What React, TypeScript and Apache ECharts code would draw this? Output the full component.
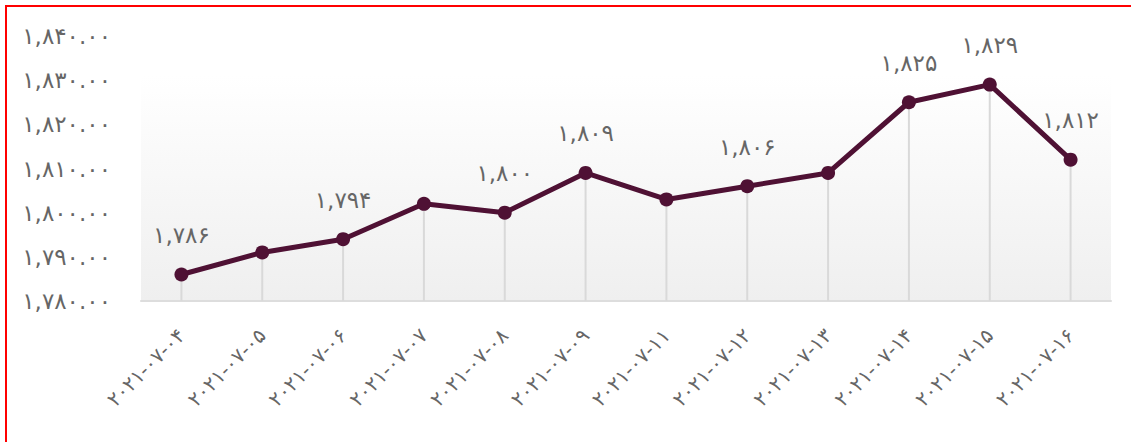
import React, { useEffect, useRef } from "react";
import * as echarts from "echarts";

const categories = [
  "۲۰۲۱-۰۷-۰۴",
  "۲۰۲۱-۰۷-۰۵",
  "۲۰۲۱-۰۷-۰۶",
  "۲۰۲۱-۰۷-۰۷",
  "۲۰۲۱-۰۷-۰۸",
  "۲۰۲۱-۰۷-۰۹",
  "۲۰۲۱-۰۷-۱۱",
  "۲۰۲۱-۰۷-۱۲",
  "۲۰۲۱-۰۷-۱۳",
  "۲۰۲۱-۰۷-۱۴",
  "۲۰۲۱-۰۷-۱۵",
  "۲۰۲۱-۰۷-۱۶",
];
const values = [1786, 1791, 1794, 1802, 1800, 1809, 1803, 1806, 1809, 1825, 1829, 1812];
const labelShown = [true, false, true, false, true, true, false, true, false, true, true, true];
const yMin = 1780;
const yMax = 1840;
const yStep = 10;

const faDigits = "۰۱۲۳۴۵۶۷۸۹";
const toFa = (s: string) => s.replace(/[0-9]/g, (d) => faDigits[Number(d)]);
const fmt = (v: number, dec: number) =>
  toFa(
    v.toLocaleString("en-US", { minimumFractionDigits: dec, maximumFractionDigits: dec })
  );

const FONT = "'DejaVu Sans', sans-serif";
const LINE_COLOR = "#4f1134";
const TEXT_COLOR = "#666666";

export default function App() {
  const ref = useRef<HTMLDivElement>(null);
  useEffect(() => {
    if (!ref.current) return;
    const chart = echarts.init(ref.current, undefined, { renderer: "svg" });
    chart.setOption({
      animation: false,
      grid: {
        left: 141,
        right: 20,
        top: 36,
        bottom: 141,
        show: true,
        borderWidth: 0,
        backgroundColor: new echarts.graphic.LinearGradient(0, 0, 0, 1, [
          { offset: 0, color: "#ffffff" },
          { offset: 0.15, color: "#ffffff" },
          { offset: 1, color: "#efefef" },
        ]),
      },
      xAxis: {
        type: "category",
        data: categories,
        boundaryGap: true,
        axisLine: { show: true, lineStyle: { color: "#dddddd", width: 2 } },
        axisTick: { show: false },
        splitLine: { show: false },
        axisLabel: {
          rotate: 45,
          margin: 31,
          interval: 0,
          color: TEXT_COLOR,
          fontSize: 20,
          fontFamily: FONT,
        },
      },
      yAxis: {
        type: "value",
        min: yMin,
        max: yMax,
        interval: yStep,
        axisLine: { show: false },
        axisTick: { show: false },
        splitLine: { show: false },
        axisLabel: {
          margin: 30,
          color: TEXT_COLOR,
          fontSize: 23,
          fontFamily: FONT,
          padding: [0, 0, 8, 0],
          formatter: (v: number) => fmt(v, 2),
        },
      },
      series: [
        {
          type: "bar",
          data: values,
          barWidth: 2,
          itemStyle: { color: "#d9d9d9" },
          silent: true,
          z: 1,
        },
        {
          type: "line",
          data: values.map((v, i) => ({
            value: v,
            label: { show: labelShown[i] },
          })),
          symbol: "circle",
          symbolSize: 14,
          lineStyle: { color: LINE_COLOR, width: 5 },
          itemStyle: { color: LINE_COLOR },
          label: {
            position: "top",
            distance: 21,
            color: TEXT_COLOR,
            fontSize: 23,
            fontFamily: FONT,
            formatter: (p: any) => fmt(p.value, 0),
          },
          z: 3,
        },
      ],
    });
    return () => chart.dispose();
  }, []);
  return (
    <div style={{ position: "fixed", left: 0, top: 0, width: 1131, height: 442, background: "#fff" }}>
      <div
        style={{
          position: "absolute",
          left: 5,
          top: 5,
          width: 1140,
          height: 450,
          border: "2px solid #ff0000",
          boxSizing: "border-box",
        }}
      />
      <div ref={ref} style={{ position: "absolute", left: 0, top: 0, width: 1131, height: 442 }} />
    </div>
  );
}
